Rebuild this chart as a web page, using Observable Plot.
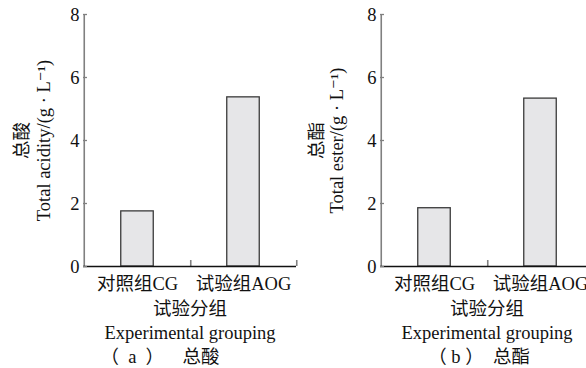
<!DOCTYPE html>
<html>
<head>
<meta charset="utf-8">
<script src="https://cdn.jsdelivr.net/npm/d3@7"></script>
<script src="https://cdn.jsdelivr.net/npm/@observablehq/plot@0.6"></script>
<style>
  html, body { margin: 0; padding: 0; background: #fff; overflow: hidden; }
  #wrap { position: relative; width: 586px; height: 368px; overflow: hidden; }
  .panel { position: absolute; top: 0; width: 296px; height: 368px; }
  .panel svg { overflow: visible; max-width: none !important; }
  .panel svg, .panel svg text { font-family: "Liberation Serif", "DejaVu Serif", "Noto Sans CJK SC", serif !important; }
</style>
</head>
<body>
<div id="wrap"><div id="pa" class="panel" style="left:0px"></div><div id="pb" class="panel" style="left:297px"></div></div>
<script>
const categories = ["对照组CG", "试验组AOG"];
const acidity = [1.75, 5.37];
const ester = [1.85, 5.33];
const yTicks = [0, 2, 4, 6, 8];
const xTitleCN = "试验分组";
const xTitleEN = "Experimental grouping";
const panelA = {cn: "总酸", en: "Total acidity/(g · L⁻¹)", caption: "（  a  ）　  总酸"};
const panelB = {cn: "总酯", en: "Total ester/(g · L⁻¹)", caption: "（ b ）  总酯"};

const FONT = '"Liberation Serif", "DejaVu Serif", "Noto Sans CJK SC", serif';
const FS = 18.5;

function panel(values, info, opts) {
  const data = categories.map((c, i) => ({cat: c, v: values[i]}));
  return Plot.plot({
    width: 296, height: 368,
    marginLeft: 83, marginRight: 0, marginTop: 14, marginBottom: 102,
    style: {fontFamily: FONT, background: "transparent", overflow: "visible", color: "#111", maxWidth: "none"},
    x: {domain: categories, padding: 0, axis: null},
    y: {domain: [0, 8], axis: null},
    marks: [
      Plot.barY(data, {x: "cat", y: "v", fill: "#e6e6e8", stroke: "#3a3a3a", strokeWidth: 1.3, insetLeft: 36.75, insetRight: 36.75}),
      Plot.ruleX([categories[0]], {dx: -53.25, y1: 0, y2: 8, stroke: "#808080", strokeWidth: 1.6}),
      Plot.ruleX(categories, {x: d => d, dx: 53.25, y1: 0, y2: 0.19, stroke: "#808080", strokeWidth: 1.6}),
      Plot.ruleY([0], {stroke: "#111", strokeWidth: 1.5}),
      Plot.axisY({ticks: yTicks, tickSize: 4, dx: 4, tickFormat: () => "", stroke: "#808080", strokeWidth: 1.3, label: null}),
      Plot.axisY({ticks: yTicks, tickSize: 0, tickPadding: 4, fontSize: FS, dy: 1, label: null, fill: "#111"}),
      Plot.axisX({tickSize: 0, tickPadding: 10, fontSize: FS, label: null, fill: "#111"}),
      Plot.text([xTitleCN], {text: d => d, frameAnchor: "bottom", dy: 42.5, lineAnchor: "middle", fontSize: FS, fill: "#111"}),
      Plot.text([xTitleEN], {text: d => d, frameAnchor: "bottom", dy: 67, lineAnchor: "middle", fontSize: FS, fill: "#111"}),
      Plot.text([info.caption], {text: d => d, frameAnchor: "bottom", dy: 90.5, dx: opts.capDx, lineAnchor: "middle", fontSize: FS, fill: "#111"}),
      Plot.text([info.cn], {text: d => d, frameAnchor: "left", textAnchor: "middle", rotate: -90, dx: opts.cnDx, lineAnchor: "middle", fontSize: FS, fill: "#111"}),
      Plot.text([info.en], {text: d => d, frameAnchor: "left", textAnchor: "middle", rotate: -90, dx: opts.enDx, lineAnchor: "middle", fontSize: FS, fill: "#111"})
    ]
  });
}

document.getElementById("pa").appendChild(panel(acidity, panelA, {capDx: -30, cnDx: -61, enDx: -39}));
document.getElementById("pb").appendChild(panel(ester, panelB, {capDx: -8, cnDx: -63, enDx: -43.5}));
</script>
</body>
</html>
